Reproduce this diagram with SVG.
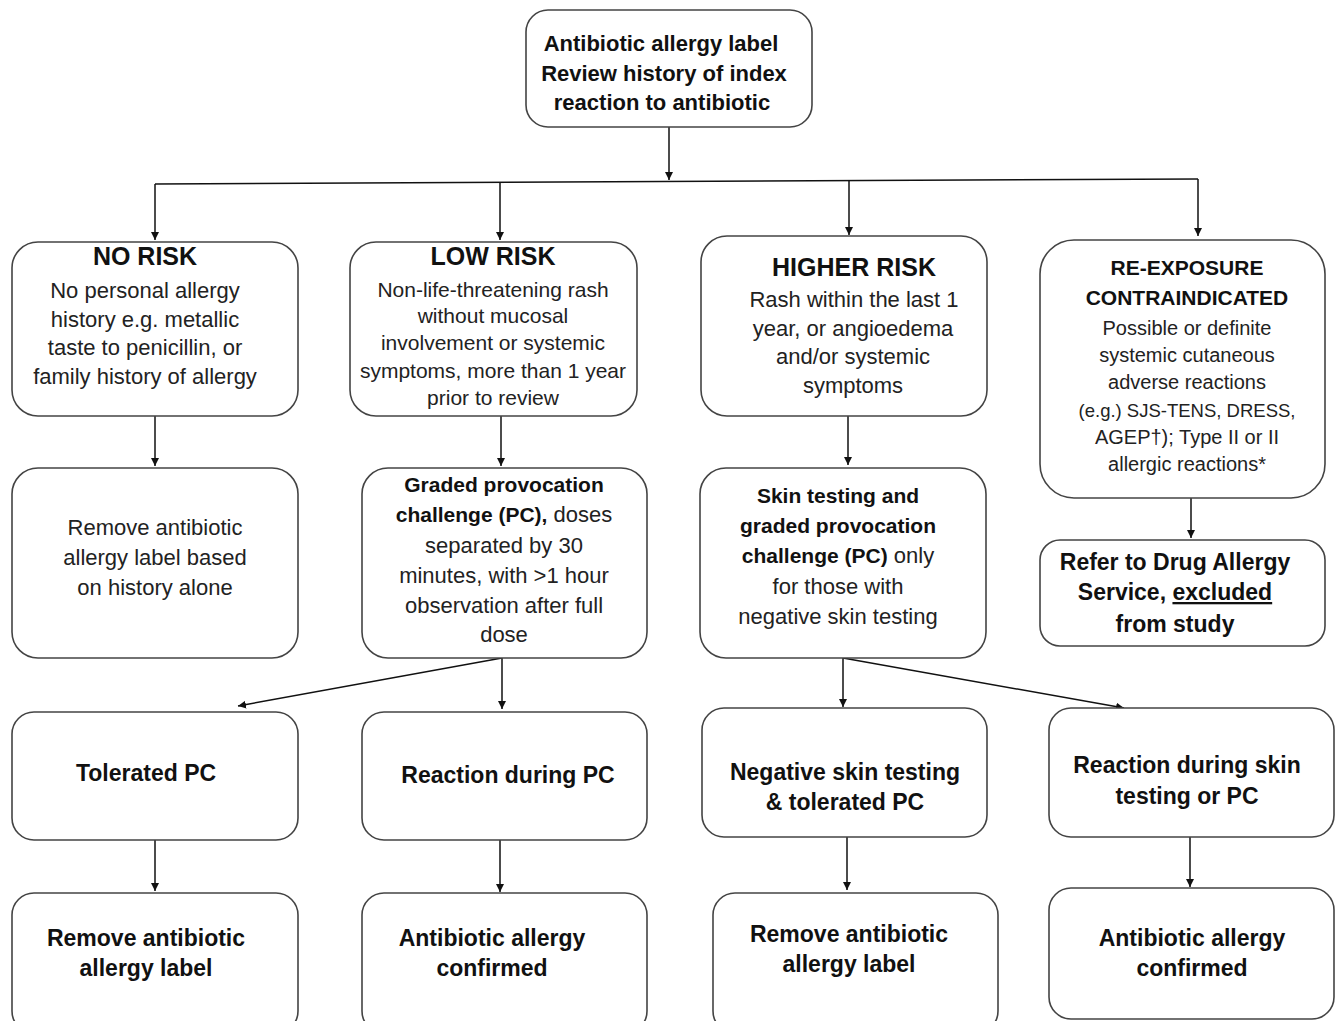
<svg xmlns="http://www.w3.org/2000/svg" width="1336" height="1021" viewBox="0 0 1336 1021">
<defs>
<marker id="ah" viewBox="0 0 10 10" refX="10" refY="5" markerWidth="8" markerHeight="10" markerUnits="userSpaceOnUse" orient="auto">
<path d="M0,0 L10,5 L0,10 z" fill="#111"/>
</marker>
<style>
.box{fill:#fff;stroke:#444;stroke-width:1.6}
.t{font-family:"Liberation Sans",Arial,sans-serif;font-size:22px;fill:#222;text-anchor:middle}
.b{font-weight:bold;fill:#111}
.bb{font-size:23px}
.h{font-family:"Liberation Sans",Arial,sans-serif;font-size:25px;font-weight:bold;fill:#111;text-anchor:middle}
.c{stroke:#111;stroke-width:1.5;fill:none}
.a{marker-end:url(#ah)}
</style>
</defs>
<rect width="1336" height="1021" fill="#fff"/>

<g id="connectors">
<path class="c a" d="M669,127 L669,180"/>
<path class="c" d="M155,184 L1198,179"/>
<path class="c a" d="M155,184 L155,240"/>
<path class="c a" d="M500,183 L500,240"/>
<path class="c a" d="M849,181 L849,235"/>
<path class="c a" d="M1198,179 L1198,236"/>
<path class="c a" d="M155,416 L155,466"/>
<path class="c a" d="M501,416 L501,466"/>
<path class="c a" d="M848,416 L848,465"/>
<path class="c a" d="M1191,498 L1191,538"/>
<path class="c a" d="M502,658 L238,706"/>
<path class="c a" d="M502,658 L502,709"/>
<path class="c a" d="M843,658 L843,707"/>
<path class="c a" d="M843,658 L1124,708"/>
<path class="c a" d="M155,840 L155,891"/>
<path class="c a" d="M500,840 L500,892"/>
<path class="c a" d="M847,837 L847,890"/>
<path class="c a" d="M1190,837 L1190,887"/>
</g>

<g id="n-top">
<rect class="box" x="526" y="10" width="286" height="117" rx="22"/>
<text class="t b" x="661" y="51">Antibiotic allergy label</text>
<text class="t b" x="664" y="81">Review history of index</text>
<text class="t b" x="662" y="110">reaction to antibiotic</text>
</g>

<g id="n-norisk">
<rect class="box" x="12" y="242" width="286" height="174" rx="26"/>
<text class="h" x="145" y="265">NO RISK</text>
<text class="t" x="145" y="298">No personal allergy</text>
<text class="t" x="145" y="327">history e.g. metallic</text>
<text class="t" x="145" y="355">taste to penicillin, or</text>
<text class="t" x="145" y="384">family history of allergy</text>
</g>

<g id="n-lowrisk">
<rect class="box" x="350" y="242" width="287" height="174" rx="26"/>
<text class="h" x="493" y="265">LOW RISK</text>
<g style="font-size:21px">
<text class="t" x="493" y="297" style="font-size:21px">Non-life-threatening  rash</text>
<text class="t" x="493" y="323" style="font-size:21px">without mucosal</text>
<text class="t" x="493" y="350" style="font-size:21px">involvement  or systemic</text>
<text class="t" x="493" y="378" style="font-size:21px">symptoms,  more than 1 year</text>
<text class="t" x="493" y="405" style="font-size:21px">prior to review</text>
</g>
</g>

<g id="n-higherrisk">
<rect class="box" x="701" y="236" width="286" height="180" rx="26"/>
<text class="h" x="854" y="276">HIGHER RISK</text>
<text class="t" x="854" y="307">Rash within the last 1</text>
<text class="t" x="853" y="336">year, or angioedema</text>
<text class="t" x="853" y="364">and/or systemic</text>
<text class="t" x="853" y="393">symptoms</text>
</g>

<g id="n-reexposure">
<rect class="box" x="1040" y="240" width="285" height="258" rx="34"/>
<text class="t b" x="1187" y="275" style="font-size:21px">RE-EXPOSURE</text>
<text class="t b" x="1187" y="305" style="font-size:21px">CONTRAINDICATED</text>
<text class="t" x="1187" y="335" style="font-size:20px">Possible or definite</text>
<text class="t" x="1187" y="362" style="font-size:20px">systemic cutaneous</text>
<text class="t" x="1187" y="389" style="font-size:20px">adverse reactions</text>
<text class="t" x="1187" y="417" style="font-size:18.5px">(e.g.) SJS-TENS,  DRESS,</text>
<text class="t" x="1187" y="444" style="font-size:20px">AGEP†); Type II or II</text>
<text class="t" x="1187" y="471" style="font-size:20px">allergic reactions*</text>
</g>

<g id="n-remove-history">
<rect class="box" x="12" y="468" width="286" height="190" rx="26"/>
<text class="t" x="155" y="535">Remove antibiotic</text>
<text class="t" x="155" y="565">allergy label based</text>
<text class="t" x="155" y="595">on history alone</text>
</g>

<g id="n-graded">
<rect class="box" x="362" y="468" width="285" height="190" rx="26"/>
<text class="t b" x="504" y="492" style="font-size:21px">Graded provocation</text>
<text class="t" x="504" y="522"><tspan class="b" style="font-size:21px">challenge (PC),</tspan> doses</text>
<text class="t" x="504" y="553">separated by 30</text>
<text class="t" x="504" y="583">minutes, with &gt;1 hour</text>
<text class="t" x="504" y="613">observation after full</text>
<text class="t" x="504" y="642">dose</text>
</g>

<g id="n-skin">
<rect class="box" x="700" y="468" width="286" height="190" rx="26"/>
<text class="t b" x="838" y="503" style="font-size:21px">Skin testing and</text>
<text class="t b" x="838" y="533" style="font-size:21px">graded provocation</text>
<text class="t" x="838" y="563"><tspan class="b" style="font-size:21px">challenge (PC)</tspan> only</text>
<text class="t" x="838" y="594">for those with</text>
<text class="t" x="838" y="624">negative skin testing</text>
</g>

<g id="n-refer">
<rect class="box" x="1040" y="540" width="285" height="106" rx="20"/>
<text class="t b bb" x="1175" y="570">Refer to Drug Allergy</text>
<text class="t b bb" x="1175" y="600">Service, <tspan text-decoration="underline">excluded</tspan></text>
<text class="t b bb" x="1175" y="632">from study</text>
</g>

<g id="n-tolerated">
<rect class="box" x="12" y="712" width="286" height="128" rx="22"/>
<text class="t b bb" x="146" y="781">Tolerated PC</text>
</g>

<g id="n-reaction-pc">
<rect class="box" x="362" y="712" width="285" height="128" rx="22"/>
<text class="t b bb" x="508" y="783">Reaction during PC</text>
</g>

<g id="n-negative">
<rect class="box" x="702" y="708" width="285" height="129" rx="22"/>
<text class="t b bb" x="845" y="780">Negative skin testing</text>
<text class="t b bb" x="845" y="810">&amp; tolerated PC</text>
</g>

<g id="n-reaction-skin">
<rect class="box" x="1049" y="708" width="285" height="129" rx="22"/>
<text class="t b bb" x="1187" y="773">Reaction during skin</text>
<text class="t b bb" x="1187" y="804">testing or PC</text>
</g>

<g id="n-remove-1">
<rect class="box" x="12" y="893" width="286" height="140" rx="22"/>
<text class="t b bb" x="146" y="946">Remove antibiotic</text>
<text class="t b bb" x="146" y="976">allergy label</text>
</g>

<g id="n-confirmed-1">
<rect class="box" x="362" y="893" width="285" height="140" rx="22"/>
<text class="t b bb" x="492" y="946">Antibiotic allergy</text>
<text class="t b bb" x="492" y="976">confirmed</text>
</g>

<g id="n-remove-2">
<rect class="box" x="713" y="893" width="285" height="140" rx="22"/>
<text class="t b bb" x="849" y="942">Remove antibiotic</text>
<text class="t b bb" x="849" y="972">allergy label</text>
</g>

<g id="n-confirmed-2">
<rect class="box" x="1049" y="888" width="285" height="131" rx="22"/>
<text class="t b bb" x="1192" y="946">Antibiotic allergy</text>
<text class="t b bb" x="1192" y="976">confirmed</text>
</g>
</svg>
